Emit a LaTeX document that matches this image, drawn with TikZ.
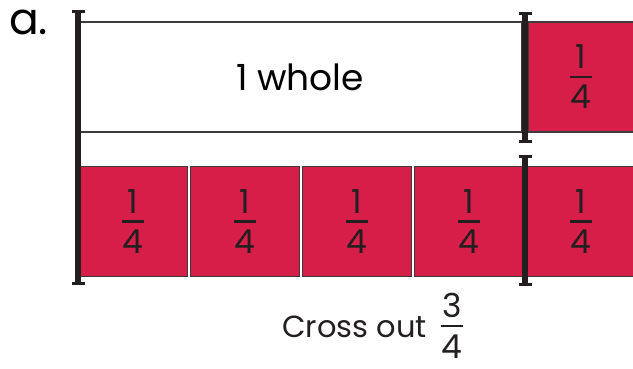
\documentclass[tikz,border=0pt]{standalone}
\usepackage{fontspec}
\setmainfont{Poppins}
\usetikzlibrary{arrows.meta}
\definecolor{quarterred}{RGB}{215,30,72}
\definecolor{barblack}{RGB}{35,31,32}
\definecolor{edgegray}{RGB}{60,60,60}
\newcommand\qfrac[2]{\vbox{\hbox to 22pt{\hss#1\hss}\kern7pt\hrule height 2.5pt\kern7pt\hbox to 22pt{\hss#2\hss}}}

\begin{document}
\begin{tikzpicture}[
        x=1pt, y=-1pt,
        piece/.style={draw=edgegray, line width=1.3pt, minimum width=109pt, minimum height=110pt, inner sep=0pt},
        quarter/.style={piece, fill=quarterred, text=barblack, font=\fontsize{33}{33}\selectfont},
        ruler/.style={draw=barblack, line width=6pt, {Bar[width=13pt,line width=3pt]}-{Bar[width=13pt,line width=3pt]}},
    ]
    \useasboundingbox (0,0) rectangle (633,369);
    \clip (0,0) rectangle (633,369);
    \node[anchor=base west, inner sep=0pt, font=\fontsize{44}{44}\selectfont] (label) at (9,35) {a.};
    \node[piece, minimum width=444pt, font=\fontsize{36}{36}\selectfont] (whole) at (300,77) {1 whole};
    \node[quarter, minimum width=106pt] (qtop) at (581,77) {\qfrac14};
    \node[quarter] (q1) at (133,221.5) {\qfrac14};
    \node[quarter] (q2) at (245,221.5) {\qfrac14};
    \node[quarter] (q3) at (357,221.5) {\qfrac14};
    \node[quarter] (q4) at (469,221.5) {\qfrac14};
    \node[quarter] (q5) at (581,221.5) {\qfrac14};
    \coordinate (lt) at (78,10);
    \coordinate (lb) at (78,285);
    \coordinate (rt1) at (525,12);
    \coordinate (rb1) at (525,143);
    \coordinate (rt2) at (525,155);
    \coordinate (rb2) at (525,286);
    \draw[ruler] (lt) -- (lb);
    \draw[ruler] (rt1) -- (rb1);
    \draw[ruler] (rt2) -- (rb2);
    \node[anchor=base west, inner sep=0pt, font=\fontsize{30.5}{30.5}\selectfont, text=barblack] (task) at (282,337) {Cross out\hspace{14pt}\raisebox{-21pt}{\fontsize{33}{33}\selectfont\qfrac34}};
\end{tikzpicture}
\end{document}
